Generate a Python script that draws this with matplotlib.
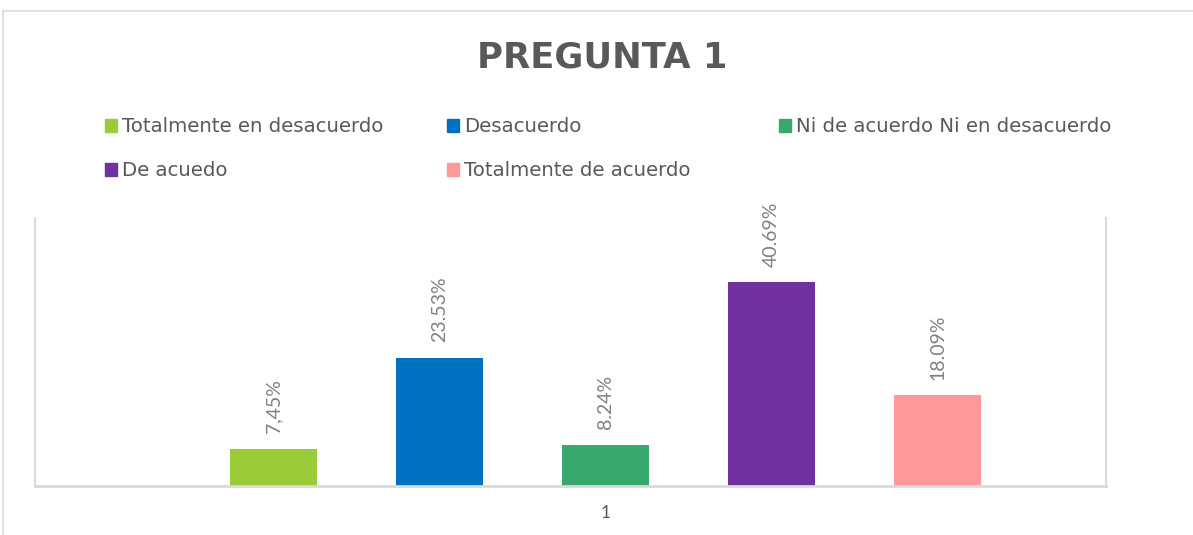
import matplotlib.pyplot as plt
from matplotlib.patches import Rectangle
from matplotlib.lines import Line2D

plt.rcParams['font.family'] = ['Lato', 'DejaVu Sans']

categories = ['Totalmente en desacuerdo', 'Desacuerdo', 'Ni de acuerdo Ni en desacuerdo',
              'De acuedo', 'Totalmente de acuerdo']
# bar heights as drawn in the picture, labels as printed
values = [7.45, 25.6, 8.24, 40.69, 18.09]
labels = ['7,45%', '23.53%', '8.24%', '40.69%', '18.09%']
colors = ['#9acb38', '#0070c0', '#38a86e', '#7030a0', '#ff9999']
group_label = '1'

fig = plt.figure(figsize=(11.93, 5.35), dpi=100)
ax = fig.add_axes([0.0293, 0.0916, 0.8978, 0.5009])

pos = list(range(len(values)))
bars = ax.bar(pos, values, width=0.525, color=colors, zorder=2)
for b, lab in zip(bars, labels):
    ax.annotate(lab, (b.get_x() + b.get_width() / 2, b.get_height()),
                xytext=(0, 11), textcoords='offset points', rotation=90,
                ha='center', va='bottom', fontsize=14, color='#808080')

ax.set_xlim(-1.437, 5.015)
ax.set_ylim(0, 53.4)
ax.set_xticks([2])
ax.set_xticklabels([group_label], fontsize=12.5, color='#595959')
ax.set_yticks([])
ax.tick_params(axis='x', length=0, pad=14)
ax.spines['top'].set_visible(False)
for s in ['left', 'right']:
    ax.spines[s].set_color('#d9d9d9')
    ax.spines[s].set_linewidth(1.5)
ax.spines['bottom'].set_color('#d9d9d9')
ax.spines['bottom'].set_linewidth(2)

fig.text(0.505, 0.893, 'PREGUNTA 1', ha='center', va='center', fontsize=25.5,
         fontweight='bold', color='#595959', family='DejaVu Sans')

# legend laid out like the Excel one: three columns, two rows
col_x = [105, 447, 779]
row_y = [126, 170]
W, H = 1193, 535
for i, (name, c) in enumerate(zip(categories, colors)):
    x = col_x[i % 3]
    y = row_y[i // 3]
    fig.patches.append(Rectangle((x / W, (H - y - 6) / H), 12 / W, 13 / H,
                                 transform=fig.transFigure, color=c))
    fig.text((x + 17) / W, (H - y) / H, name, ha='left', va='center',
             fontsize=14.2, color='#595959', family='DejaVu Sans')

# chart area border
fig.lines.append(Line2D([3 / W, 3 / W], [0, 1 - 11 / H], transform=fig.transFigure,
                        color='#d9d9d9', lw=1.2))
fig.lines.append(Line2D([3 / W, 1], [1 - 11 / H, 1 - 11 / H], transform=fig.transFigure,
                        color='#d9d9d9', lw=1.2))

fig.savefig('out.png', dpi=100)
